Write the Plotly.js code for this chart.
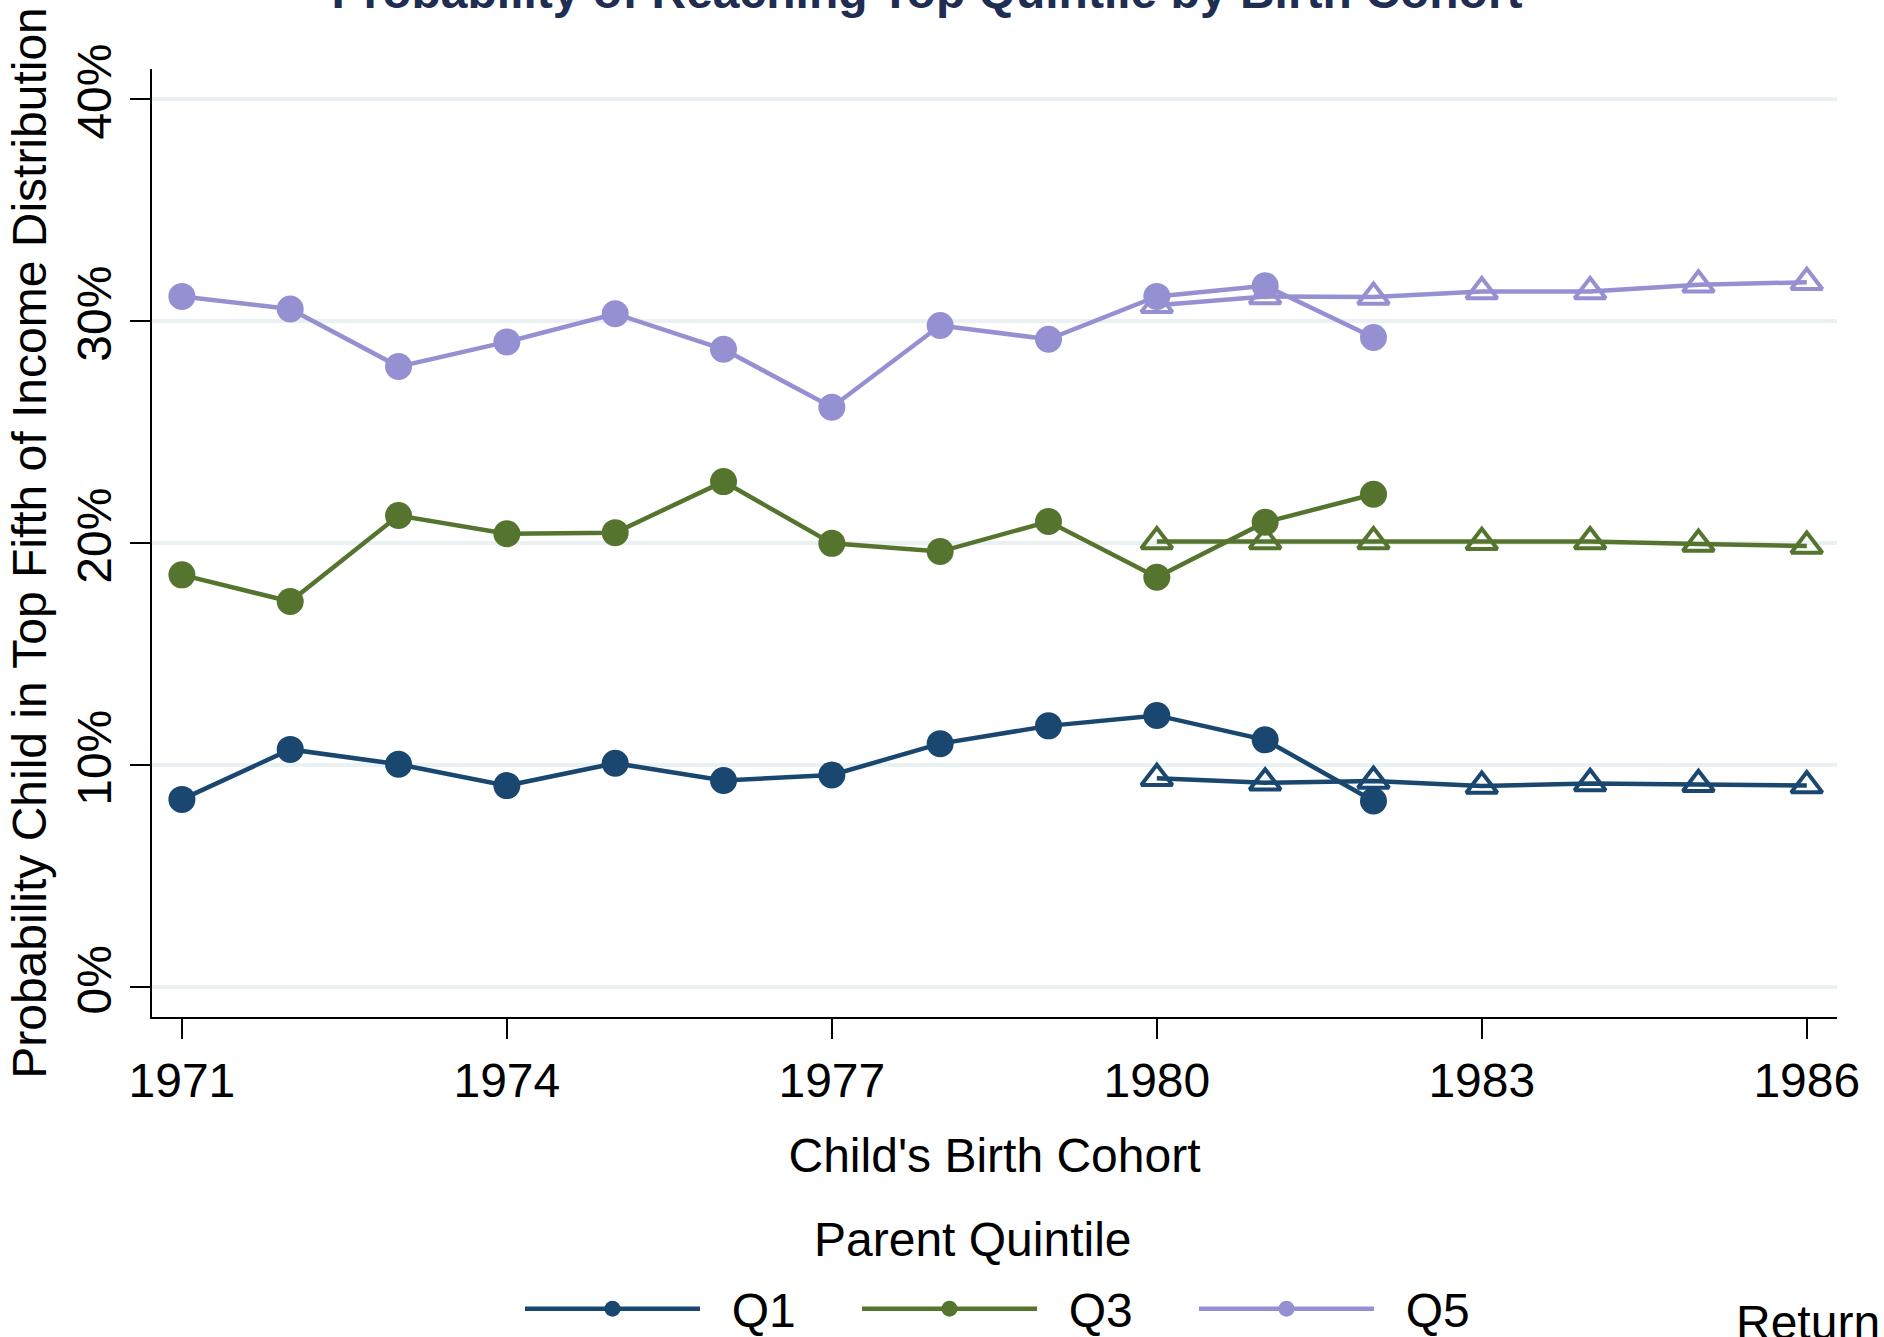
<!DOCTYPE html>
<html>
<head>
<meta charset="utf-8">
<script src="https://cdn.plot.ly/plotly-3.0.1.min.js"></script>
<style>
  html, body { margin: 0; padding: 0; background: #ffffff; }
  #chart { width: 1884px; height: 1337px; }
</style>
</head>
<body>
<div id="chart"></div>
<script>
// ---- Data (in percent) ----
const yearsObserved = [1971, 1972, 1973, 1974, 1975, 1976, 1977, 1978, 1979, 1980, 1981, 1982];
const q1Observed = [8.45, 10.70, 10.03, 9.07, 10.08, 9.30, 9.55, 10.96, 11.76, 12.23, 11.13, 8.38];
const q3Observed = [18.56, 17.36, 21.23, 20.41, 20.46, 22.76, 19.98, 19.61, 20.96, 18.45, 20.93, 22.19];
const q5Observed = [31.10, 30.53, 27.94, 29.05, 30.32, 28.72, 26.11, 29.79, 29.17, 31.10, 31.58, 29.25];

const yearsPredicted = [1980, 1981, 1982, 1983, 1984, 1985, 1986];
const q1Predicted = [9.40, 9.20, 9.28, 9.05, 9.17, 9.13, 9.07];
const q3Predicted = [20.06, 20.06, 20.06, 20.03, 20.06, 19.95, 19.86];
const q5Predicted = [30.70, 31.10, 31.07, 31.32, 31.32, 31.62, 31.74];

const seriesNames = ["Q1", "Q3", "Q5"];
const xTickVals = [1971, 1974, 1977, 1980, 1983, 1986];
const yTickVals = [0, 10, 20, 30, 40];
const yTickText = ["0%", "10%", "20%", "30%", "40%"];

const titleText = "Probability of Reaching Top Quintile by Birth Cohort";
const xTitleText = "Child's Birth Cohort";
const yTitleText = "Probability Child in Top Fifth of Income Distribution";
const legendTitleText = "Parent Quintile";
const cornerText = "Return";

// ---- Styles ----
const colors = ["#1a476f", "#55752f", "#9590d2"];
const FONT = "Liberation Sans, Arial, Helvetica, sans-serif";
const FS = 48;
const NB = "\u00A0\u00A0";

const observed = [q1Observed, q3Observed, q5Observed];
const predicted = [q1Predicted, q3Predicted, q5Predicted];

const traces = [];
for (let i = 0; i < 3; i++) {
  traces.push({
    type: "scatter",
    mode: "lines+markers",
    x: yearsPredicted,
    y: predicted[i],
    name: seriesNames[i] + " predicted",
    showlegend: false,
    line: { color: colors[i], width: 4.5 },
    marker: { symbol: "triangle-up-open", size: 27, color: colors[i], line: { color: colors[i], width: 4 } },
    hoverinfo: "x+y"
  });
}
for (let i = 0; i < 3; i++) {
  traces.push({
    type: "scatter",
    mode: "lines+markers",
    x: yearsObserved,
    y: observed[i],
    name: NB + seriesNames[i],
    showlegend: true,
    line: { color: colors[i], width: 4.5 },
    marker: { symbol: "circle", size: 27, color: colors[i] },
    hoverinfo: "x+y"
  });
}

// plot-area pixel geometry helpers for annotations
const PL = 152.3, PR = 1836.7, PT = 69.3, PB = 1017;
const px2x = (px) => (px - PL) / (PR - PL);
const py2y = (py) => (PB - py) / (PB - PT);

const layout = {
  width: 1884,
  height: 1337,
  margin: { l: 152, r: 47, t: 69, b: 320, pad: 0 },
  paper_bgcolor: "#ffffff",
  plot_bgcolor: "#ffffff",
  font: { family: FONT, size: FS, color: "#000000" },
  title: {
    text: titleText,
    font: { family: FONT, size: FS, color: "#1f2d52", weight: "bold" },
    xref: "container", x: 927 / 1884, xanchor: "center",
    yref: "container", y: 1 - 8 / 1337, yanchor: "bottom"
  },
  xaxis: {
    range: [1970.724, 1986.279],
    tickvals: xTickVals,
    ticks: "outside", ticklen: 20, tickwidth: 2, tickcolor: "#000000",
    showline: true, linecolor: "#000000", linewidth: 2,
    showgrid: false, zeroline: false,
    tickfont: { family: FONT, size: FS, color: "#000000" },
    title: { text: xTitleText, font: { family: FONT, size: FS, color: "#000000" }, standoff: 33 }
  },
  yaxis: {
    range: [-1.35, 41.34],
    tickvals: yTickVals,
    ticktext: yTickText,
    tickangle: -90,
    ticks: "outside", ticklen: 20, tickwidth: 2, tickcolor: "#000000",
    showline: true, linecolor: "#000000", linewidth: 2,
    showgrid: true, gridcolor: "#eaf1f2", gridwidth: 4,
    zeroline: false,
    tickfont: { family: FONT, size: FS, color: "#000000" },
    title: { text: yTitleText, font: { family: FONT, size: FS, color: "#000000" }, standoff: 6 }
  },
  showlegend: true,
  legend: {
    orientation: "h",
    xref: "container", x: 520 / 1884, xanchor: "left",
    yref: "container", y: 1 - 1309 / 1337, yanchor: "middle",
    itemwidth: 175,
    entrywidthmode: "pixels", entrywidth: 147,
    font: { family: FONT, size: FS, color: "#000000" },
    bgcolor: "rgba(0,0,0,0)", borderwidth: 0,
    itemclick: false, itemdoubleclick: false
  },
  annotations: [
    {
      text: legendTitleText, showarrow: false,
      xref: "paper", yref: "paper",
      x: px2x(973), xanchor: "center",
      y: py2y(1239), yanchor: "middle",
      font: { family: FONT, size: FS, color: "#000000" }
    },
    {
      text: cornerText, showarrow: false,
      xref: "paper", yref: "paper",
      x: px2x(1734), xanchor: "left",
      y: py2y(1322), yanchor: "middle",
      font: { family: FONT, size: FS, color: "#000000" }
    }
  ]
};

Plotly.newPlot("chart", traces, layout, { displayModeBar: false, staticPlot: true });
</script>
</body>
</html>
